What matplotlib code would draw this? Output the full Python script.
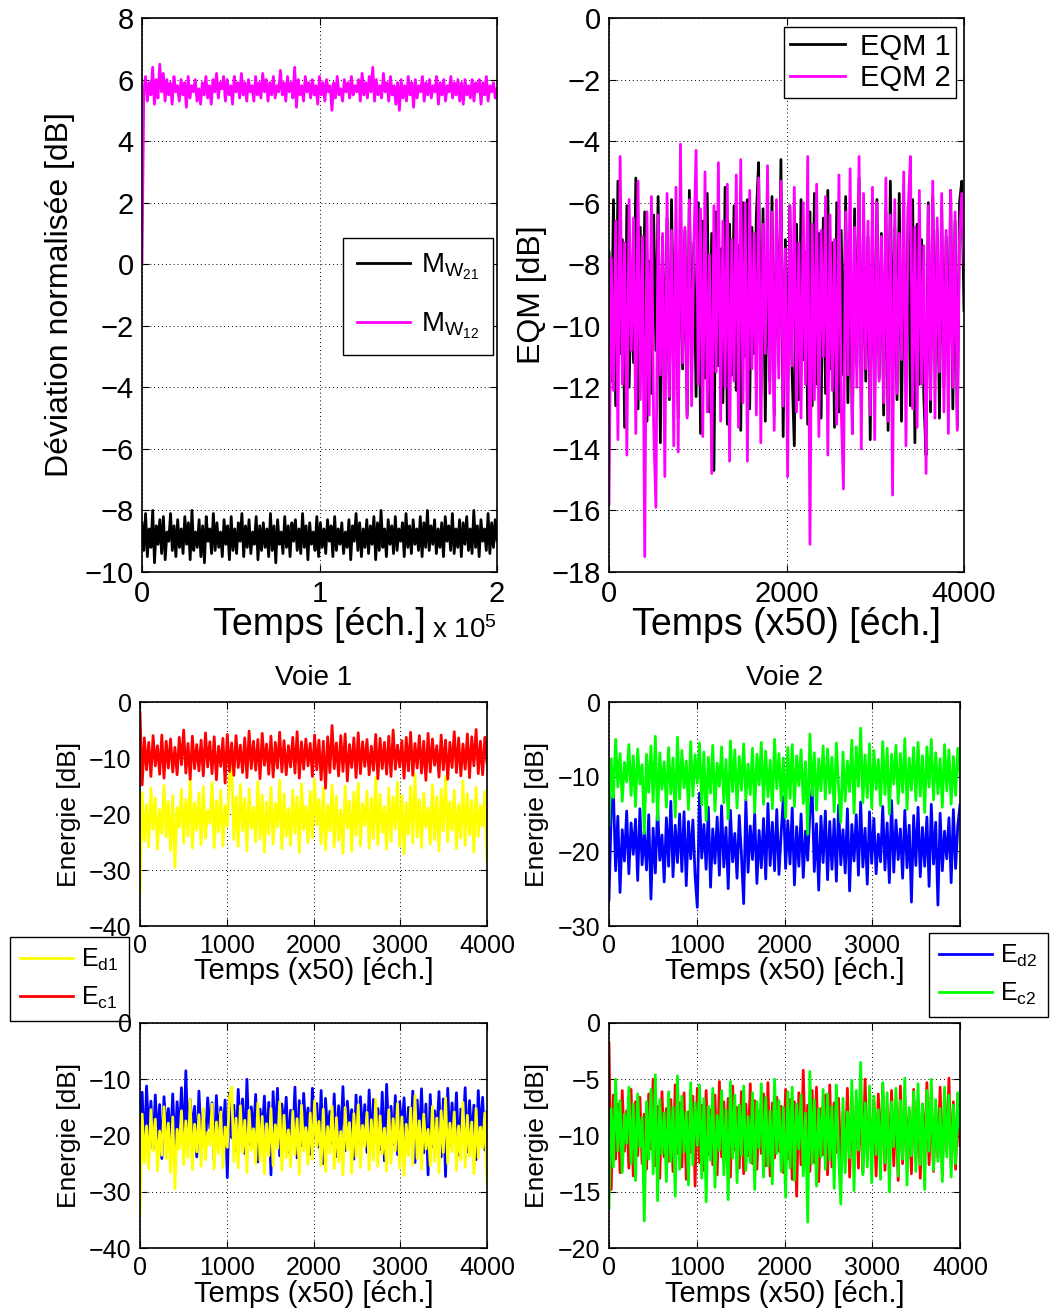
import numpy as np
import matplotlib
matplotlib.use("Agg")
import matplotlib.pyplot as plt

plt.rcParams['font.family'] = ['Liberation Sans', 'DejaVu Sans']
plt.rcParams['mathtext.fontset'] = 'custom'
plt.rcParams['mathtext.rm'] = 'Liberation Sans'
plt.rcParams['mathtext.it'] = 'Liberation Sans:italic'

# --- data (dB values) ---
mw21 = [-8.4, -9.3, -8.1, -9.5, -8.6, -9.2, -8.0, -9.7, -8.5, -9.1, -8.3, -9.4, -8.2, -9.6, -8.7, -9.0, -8.1, -9.3, -8.5, -9.5,
        -8.3, -9.2, -8.6, -9.4, -8.2, -9.1, -8.4, -9.6, -8.0, -9.3, -8.7, -9.2, -8.3, -9.5, -8.5, -9.7, -8.2, -9.0, -8.6, -9.4,
        -8.1, -9.3, -8.4, -9.2, -8.7, -9.5, -8.3, -9.1, -8.5, -9.6, -8.2, -9.3, -8.6, -9.4, -8.4, -9.0, -8.1, -9.5, -8.5, -9.2,
        -8.3, -9.4, -8.7, -9.1, -8.2, -9.6, -8.5, -9.3, -8.4, -9.2, -8.6, -9.5, -8.1, -9.3, -8.5, -9.7, -8.3, -9.1, -8.7, -9.4,
        -8.2, -9.2, -8.5, -9.5, -8.4, -9.0, -8.3, -9.3, -8.6, -9.4, -8.1, -9.2, -8.5, -9.6, -8.4, -9.1, -8.7, -9.3, -8.2, -9.5,
        -8.4, -9.2, -8.6, -9.4, -8.3, -9.0, -8.5, -9.5, -8.2, -9.3, -8.6, -9.1, -8.4, -9.4, -8.7, -9.2, -8.3, -9.6, -8.5, -9.0,
        -8.1, -9.3, -8.4, -9.5, -8.6, -9.2, -8.3, -9.4, -8.5, -9.1, -8.2, -9.6, -8.4, -9.3, -8.0, -9.2, -8.6, -9.5, -8.3, -9.1,
        -8.5, -9.4, -8.2, -9.3, -8.6, -9.0, -8.4, -9.5, -8.1, -9.2, -8.5, -9.4, -8.3, -9.1, -8.6, -9.3, -8.2, -9.5, -8.4, -9.2,
        -8.0, -9.3, -8.5, -9.1, -8.3, -9.4, -8.6, -9.2, -8.4, -9.5, -8.2, -9.0, -8.5, -9.3, -8.1, -9.4, -8.6, -9.2, -8.3, -9.5,
        -8.4, -9.1, -8.2, -9.3, -8.6, -9.4, -8.0, -9.2, -8.5, -9.5, -8.3, -9.0, -8.6, -9.3, -8.1, -9.4, -8.4, -9.2, -8.3, -9.0]

mw12 = [0.0,
        5.6, 6.1, 5.3, 5.9, 5.5, 6.4, 5.2, 6.0, 5.4, 6.5, 5.6, 6.2, 5.3, 6.0, 5.5, 5.9, 5.2, 6.1, 5.6, 5.8,
        5.3, 6.0, 5.5, 5.9, 5.1, 6.1, 5.4, 5.8, 5.6, 6.0, 5.3, 5.7, 5.2, 5.9, 5.5, 6.1, 5.4, 5.8, 5.2, 6.0,
        5.6, 6.2, 5.4, 5.9, 5.7, 6.1, 5.3, 6.0, 5.5, 5.8, 5.2, 6.1, 5.6, 5.9, 5.4, 6.2, 5.5, 5.9, 5.3, 6.0,
        5.6, 5.8, 5.3, 6.1, 5.5, 5.9, 5.4, 6.2, 5.6, 6.0, 5.3, 5.9, 5.5, 6.1, 5.4, 5.8, 5.6, 6.3, 5.5, 5.9,
        5.3, 6.1, 5.6, 5.9, 5.4, 6.4, 5.1, 6.0, 5.5, 5.8, 5.3, 6.1, 5.6, 5.9, 5.4, 6.0, 5.5, 5.8, 5.2, 6.1,
        5.5, 5.9, 5.3, 6.0, 5.6, 5.8, 5.0, 5.9, 5.4, 6.1, 5.5, 5.7, 5.3, 6.0, 5.6, 5.9, 5.4, 6.1, 5.5, 5.8,
        5.6, 6.0, 5.3, 6.2, 5.5, 5.9, 5.4, 6.1, 5.6, 6.4, 5.3, 6.0, 5.5, 5.8, 5.4, 6.2, 5.6, 5.9, 5.3, 6.1,
        5.5, 5.8, 5.2, 5.9, 5.0, 6.0, 5.4, 5.8, 5.3, 6.1, 5.5, 5.9, 5.1, 6.0, 5.4, 5.8, 5.6, 6.1, 5.3, 5.9,
        5.5, 6.0, 5.4, 5.8, 5.6, 6.1, 5.2, 5.9, 5.5, 6.0, 5.3, 5.8, 5.6, 6.1, 5.4, 5.9, 5.5, 6.0, 5.3, 5.9,
        5.2, 6.0, 5.5, 5.8, 5.4, 6.0, 5.3, 5.9, 5.6, 6.0, 5.2, 5.9, 5.5, 6.1, 5.3, 5.8, 5.6, 5.9, 5.4, 5.7]

eqm1 = [-7.6, -11.8, -5.9, -12.6, -5.3, -10.9, -7.2, -13.3, -6.1, -12.0, -8.4, -11.2, -5.2, -12.7, -6.8, -11.5, -6.3, -13.1, -7.9, -12.2,
        -6.4, -10.8, -5.8, -13.8, -7.1, -11.9, -6.5, -12.4, -5.9, -10.7, -7.7, -13.0, -6.2, -11.4, -6.9, -12.9, -5.6, -11.1, -7.3, -12.3,
        -6.0, -13.5, -6.6, -11.7, -5.7, -12.8, -7.0, -14.7, -6.3, -11.3, -7.5, -12.5, -5.5, -13.2, -6.7, -11.6, -6.1, -12.1, -7.4, -13.4,
        -6.0, -11.0, -5.9, -12.7, -6.8, -10.9, -6.4, -4.7, -12.3, -6.2, -13.1, -7.1, -11.8, -5.8, -12.9, -6.5, -11.2, -4.6, -13.6, -7.2,
        -12.0, -6.1, -11.5, -13.9, -6.7, -12.4, -5.9, -11.1, -7.6, -13.2, -6.3, -12.6, -5.7, -11.9, -7.0, -13.0, -6.5, -12.2, -5.6, -11.4,
        -7.3, -13.3, -6.0, -12.8, -6.9, -11.6, -5.8, -12.5, -7.5, -13.5, -6.2, -11.3, -5.2, -12.7, -6.6, -11.8, -7.1, -13.7, -6.4, -12.1,
        -5.9, -11.7, -7.0, -12.9, -6.3, -13.4, -5.3, -11.0, -6.8, -12.4, -5.7, -13.1, -7.4, -11.5, -6.1, -12.6, -5.9, -13.8, -6.7, -11.9,
        -7.2, -12.3, -14.2, -6.0, -12.8, -5.8, -11.2, -6.9, -13.0, -6.2, -12.0, -7.1, -11.6, -5.6, -12.7, -6.6, -13.3, -6.0, -5.3, -9.5]

eqm2 = [-15.8, -7.8, -12.1, -6.6, -13.7, -4.5, -11.9, -7.3, -14.2, -5.9, -10.8, -6.5, -13.5, -5.3, -12.4, -7.1, -17.5, -6.3, -12.9, -5.8,
        -13.2, -15.9, -6.4, -11.6, -7.0, -14.9, -5.7, -12.3, -6.9, -13.9, -5.5, -14.1, -4.1, -11.2, -6.8, -13.0, -5.9, -12.6, -7.4, -4.3,
        -11.9, -6.2, -13.6, -5.0, -12.8, -7.7, -14.8, -6.1, -11.5, -4.7, -13.1, -6.6, -12.0, -5.4, -14.4, -7.2, -11.8, -5.1, -13.3, -4.6,
        -12.5, -6.0, -14.4, -5.6, -11.4, -7.0, -12.9, -5.2, -13.8, -6.7, -10.9, -4.8, -12.2, -6.3, -13.4, -5.9, -11.7, -5.3, -12.6, -7.5,
        -14.9, -6.1, -11.3, -5.5, -12.8, -7.3, -13.0, -6.0, -11.9, -4.5, -17.1, -6.7, -12.4, -5.4, -13.6, -6.9, -11.0, -5.8, -14.2, -6.4,
        -12.1, -7.2, -13.2, -5.1, -12.7, -15.3, -6.3, -11.6, -4.9, -13.5, -6.8, -12.0, -4.5, -14.0, -5.7, -11.4, -6.6, -12.9, -5.5, -13.7,
        -6.0, -11.8, -7.1, -12.5, -5.2, -13.1, -6.4, -15.5, -5.9, -12.2, -7.0, -11.1, -5.0, -13.9, -6.2, -4.5, -12.7, -6.8, -13.3, -5.6,
        -11.9, -7.4, -14.8, -6.1, -12.4, -5.3, -13.0, -6.5, -11.5, -5.7, -12.8, -6.9, -13.5, -5.6, -12.0, -6.3, -13.4, -7.1, -5.7, -8.0]

ed1 = [-34.0, -16.2, -24.8, -18.3, -25.9, -15.4, -22.7, -17.1, -26.3, -19.2, -23.5, -14.9, -24.1, -17.8, -26.5, -16.7, -29.5, -18.9, -22.4, -15.6,
       -25.2, -17.4, -23.9, -13.6, -26.1, -18.0, -22.9, -16.3, -25.5, -15.1, -24.3, -19.4, -21.7, -14.4, -26.0, -17.6, -23.2, -15.8, -25.7, -18.5,
       -22.1, -13.2, -11.4, -24.6, -16.9, -25.8, -14.7, -23.0, -17.3, -26.6, -15.5, -22.6, -18.8, -25.0, -14.2, -24.5, -16.6, -26.8, -17.9, -23.6,
       -15.2, -25.4, -18.1, -22.3, -14.0, -26.2, -16.4, -24.0, -19.0, -25.6, -15.7, -23.4, -17.0, -26.9, -14.6, -22.8, -18.6, -25.1, -16.0, -24.2,
       -13.8, -21.9, -17.5, -25.3, -15.3, -26.4, -18.4, -23.1, -14.8, -25.9, -16.8, -24.7, -19.3, -27.0, -15.0, -22.5, -17.7, -26.7, -16.1, -23.8,
       -14.5, -25.7, -18.2, -22.0, -15.9, -26.1, -17.2, -24.4, -13.5, -25.5, -16.5, -23.3, -18.7, -26.3, -15.4, -24.9, -17.0, -22.7, -14.3, -25.8,
       -16.7, -27.1, -18.0, -23.6, -15.1, -25.2, -12.9, -24.1, -17.4, -26.0, -16.2, -22.4, -18.9, -25.4, -14.8, -24.6, -16.9, -26.6, -15.6, -23.0,
       -13.3, -25.0, -17.8, -22.9, -15.8, -26.2, -18.3, -24.3, -14.1, -25.6, -16.4, -23.7, -17.6, -26.8, -15.2, -24.0, -18.5, -22.2, -16.0, -28.3]

ec1 = [-1.8, -14.8, -6.4, -12.1, -7.2, -13.3, -6.0, -11.4, -7.8, -12.9, -5.9, -13.6, -7.0, -11.8, -6.6, -12.5, -8.1, -13.0, -6.3, -11.2,
       -5.0, -12.7, -7.4, -13.8, -6.1, -11.9, -7.6, -12.3, -6.8, -13.2, -5.5, -11.6, -7.1, -12.8, -6.2, -13.9, -7.9, -11.5, -6.5, -14.5,
       -5.8, -12.4, -7.3, -13.1, -6.0, -11.7, -7.7, -12.6, -6.4, -13.5, -5.2, -11.9, -7.0, -12.2, -6.7, -13.7, -5.6, -11.3, -7.5, -12.9,
       -6.1, -13.4, -7.2, -11.8, -5.4, -12.5, -6.9, -13.0, -7.8, -11.6, -6.3, -12.7, -5.3, -13.6, -7.1, -12.0, -6.6, -11.4, -7.4, -13.3,
       -5.9, -12.1, -6.8, -13.9, -7.0, -15.4, -6.2, -12.6, -4.2, -11.9, -7.3, -13.2, -6.0, -12.4, -5.7, -14.1, -7.6, -11.7, -6.4, -13.5,
       -5.5, -12.8, -7.1, -11.5, -6.7, -13.0, -7.9, -12.2, -5.8, -13.7, -6.5, -11.9, -7.2, -12.9, -6.1, -13.3, -5.0, -12.0, -7.7, -11.6,
       -6.9, -13.6, -6.3, -12.3, -5.4, -13.1, -7.4, -11.8, -6.0, -12.7, -7.0, -14.0, -5.6, -12.5, -6.6, -11.3, -7.8, -13.4, -5.9, -12.1,
       -6.8, -13.8, -7.2, -11.7, -5.3, -12.6, -6.4, -13.2, -7.5, -12.0, -5.7, -13.5, -6.2, -11.4, -4.9, -12.8, -7.0, -13.0, -6.3, -10.9]

ed2 = [-26.5, -14.8, -12.0, -22.6, -15.3, -25.5, -17.1, -21.3, -14.6, -23.0, -16.2, -20.4, -15.7, -23.9, -14.3, -21.8, -17.4, -22.5, -15.1, -26.4,
       -16.9, -22.9, -14.0, -21.2, -17.8, -24.1, -15.5, -22.0, -13.3, -23.4, -16.5, -21.5, -15.0, -22.7, -14.7, -24.6, -16.0, -21.0, -15.8, -23.3,
       -27.5, -12.2, -20.9, -16.4, -22.4, -14.1, -24.8, -17.0, -21.6, -15.4, -23.2, -13.9, -22.1, -16.8, -25.0, -14.5, -21.4, -17.6, -23.6, -15.2,
       -20.6, -27.0, -13.1, -22.8, -16.6, -21.1, -14.9, -24.3, -17.2, -22.2, -15.6, -23.7, -13.6, -21.9, -16.1, -22.6, -14.4, -23.1, -17.5, -12.7,
       -22.3, -15.9, -21.7, -14.2, -24.5, -16.7, -22.0, -15.0, -23.5, -17.3, -21.2, -14.8, -11.6, -22.7, -16.3, -25.2, -15.3, -21.5, -14.6, -23.8,
       -16.0, -22.4, -15.7, -24.0, -13.8, -21.8, -17.1, -22.9, -14.3, -25.3, -16.4, -21.3, -15.1, -23.2, -13.4, -22.1, -16.9, -24.4, -14.7, -21.6,
       -15.6, -23.0, -17.7, -21.4, -14.0, -22.5, -16.2, -24.2, -13.2, -22.8, -15.8, -21.1, -17.0, -23.6, -14.5, -22.2, -16.5, -26.8, -15.2, -21.9,
       -14.1, -23.4, -16.8, -22.0, -15.4, -24.7, -13.7, -21.7, -16.1, -27.2, -14.9, -22.6, -17.3, -21.0, -15.5, -24.2, -14.4, -22.3, -16.6, -13.8]

ec2 = [-16.5, -7.6, -12.8, -5.0, -11.4, -6.9, -13.3, -8.1, -10.7, -5.7, -12.5, -7.2, -14.0, -6.3, -11.0, -8.4, -17.6, -7.0, -12.1, -5.9,
       -13.4, -4.6, -15.8, -6.8, -11.7, -8.0, -14.1, -6.1, -12.3, -7.5, -15.4, -4.7, -13.0, -6.5, -11.5, -7.9, -14.4, -5.3, -12.6, -7.1,
       -10.9, -5.5, -13.8, -6.7, -15.9, -7.4, -12.2, -5.8, -14.6, -8.2, -11.3, -6.0, -13.5, -7.7, -15.7, -5.2, -12.0, -6.4, -14.2, -7.3,
       -11.8, -5.6, -13.1, -8.3, -12.4, -6.2, -14.8, -7.0, -11.1, -5.4, -13.7, -6.6, -12.7, -7.8, -14.3, -5.0, -11.6, -6.9, -13.2, -7.5,
       -15.5, -6.1, -12.9, -5.7, -14.0, -7.2, -11.2, -6.4, -13.6, -8.0, -17.7, -4.3, -12.5, -6.8, -14.5, -7.6, -11.9, -5.9, -13.0, -6.3,
       -12.2, -7.4, -14.7, -5.5, -11.5, -16.1, -6.7, -13.3, -7.9, -12.0, -5.1, -14.9, -6.0, -11.3, -3.5, -13.5, -7.1, -12.8, -5.6, -14.2,
       -6.5, -11.7, -7.7, -13.9, -5.3, -12.4, -6.2, -15.0, -7.0, -11.0, -5.8, -13.6, -6.9, -12.1, -4.9, -14.4, -7.5, -11.8, -6.1, -13.2,
       -5.4, -12.6, -7.2, -14.8, -6.0, -11.4, -5.0, -13.1, -6.8, -12.3, -7.6, -14.1, -5.7, -11.9, -6.4, -13.7, -7.3, -12.5, -6.2, -9.8]

# blue curve of the lower-left panel
ed2b = [-18.0, -12.3, -23.5, -11.2, -19.8, -13.9, -22.4, -12.8, -20.6, -14.5, -24.1, -13.1, -19.2, -15.2, -21.7, -12.6, -23.0, -14.0, -20.1, -11.5,
        -22.8, -8.5, -21.3, -13.6, -19.5, -14.8, -23.8, -12.1, -20.9, -15.6, -22.2, -13.3, -18.7, -14.2, -24.4, -12.9, -21.0, -15.0, -19.9, -13.7,
        -27.5, -12.4, -20.4, -14.6, -22.6, -11.8, -19.3, -13.5, -23.2, -10.0, -21.5, -14.9, -20.0, -12.7, -24.7, -15.3, -19.6, -13.0, -22.0, -14.1,
        -27.0, -12.2, -21.1, -11.6, -23.6, -14.4, -19.0, -13.2, -22.9, -15.5, -20.7, -11.4, -24.0, -13.8, -21.8, -12.5, -19.4, -15.1, -23.3, -11.6,
        -20.3, -14.3, -22.1, -12.0, -25.0, -13.4, -19.7, -15.7, -21.4, -12.6, -23.7, -14.7, -20.5, -11.3, -22.7, -13.9, -19.1, -15.4, -24.2, -12.8,
        -21.2, -13.1, -20.2, -14.5, -23.0, -11.9, -21.9, -13.6, -19.8, -15.2, -22.5, -12.3, -24.5, -10.9, -20.6, -14.8, -21.6, -12.9, -23.4, -14.0,
        -19.5, -13.3, -22.3, -15.0, -20.8, -12.1, -24.8, -13.7, -21.3, -11.7, -23.1, -14.4, -27.0, -12.7, -22.0, -15.6, -19.9, -12.2, -23.8, -13.5,
        -27.3, -11.6, -21.7, -14.2, -20.4, -12.4, -23.5, -15.3, -19.3, -11.5, -22.9, -13.8, -21.0, -14.6, -24.3, -12.0, -20.1, -13.2, -22.6, -15.8]

# --- figure ---
W, H = 1052, 1309
fig = plt.figure(figsize=(W / 100, H / 100), dpi=100)


def px_axes(x0, y0, x1, y1):
    return fig.add_axes([x0 / W, 1 - y1 / H, (x1 - x0) / W, (y1 - y0) / H])


def style(ax, fs):
    ax.tick_params(direction='in', top=True, right=True, length=5, width=0.8,
                   labelsize=fs, pad=6)
    ax.grid(True, linestyle=(0, (1, 3)), color='black', linewidth=0.7)
    for s in ax.spines.values():
        s.set_linewidth(1.2)


def box(leg):
    leg.get_frame().set_linewidth(1.0)
    return leg


lw = 2.0
ax1 = px_axes(142, 18, 497, 572)
ax2 = px_axes(609, 18, 964, 572)
ax3 = px_axes(140, 702, 487, 926)
ax4 = px_axes(609, 702, 960, 926)
ax5 = px_axes(140, 1023, 487, 1248)
ax6 = px_axes(609, 1023, 960, 1248)

# panel 1
t1 = np.linspace(0, 2e5, len(mw21))
t2 = np.linspace(0, 2e5, len(mw12))
ax1.plot(t1, mw21, color='black', lw=lw, label=r'$\mathrm{M}_{\mathrm{W}_{\mathrm{21}}}$')
ax1.plot(t2, mw12, color='#ff00ff', lw=lw, label=r'$\mathrm{M}_{\mathrm{W}_{\mathrm{12}}}$')
ax1.set_xlim(0, 2e5)
ax1.set_ylim(-10, 8)
ax1.set_xticks([0, 1e5, 2e5])
ax1.set_xticklabels(['0', '1', '2'])
ax1.set_yticks(np.arange(-10, 9, 2))
style(ax1, 21)
ax1.set_xlabel('Temps [éch.]', fontsize=27)
ax1.xaxis.set_label_coords(0.5, -0.064)
ax1.set_ylabel('Déviation normalisée [dB]', fontsize=23)
ax1.yaxis.set_label_coords(-0.19, 0.5)
ax1.text(1.0, -0.105, r'x 10$^5$', transform=ax1.transAxes, ha='right', va='center', fontsize=20)
box(ax1.legend(loc='upper left', bbox_to_anchor=(0.566, 0.603), fontsize=20, fancybox=False,
               edgecolor='black', framealpha=1, handlelength=1.9, borderpad=0.5,
               labelspacing=1.0, borderaxespad=0, handletextpad=0.4))

# panel 2
x2 = np.linspace(0, 4000, len(eqm1))
ax2.plot(x2, eqm1, color='black', lw=lw, label='EQM 1')
ax2.plot(x2, eqm2, color='#ff00ff', lw=lw, label='EQM 2')
ax2.set_xlim(0, 4000)
ax2.set_ylim(-18, 0)
ax2.set_xticks([0, 2000, 4000])
ax2.set_yticks(np.arange(-18, 1, 2))
style(ax2, 21)
ax2.set_xlabel('Temps (x50) [éch.]', fontsize=27)
ax2.xaxis.set_label_coords(0.5, -0.064)
ax2.set_ylabel('EQM [dB]', fontsize=23)
ax2.yaxis.set_label_coords(-0.175, 0.5)
box(ax2.legend(loc='upper right', bbox_to_anchor=(0.978, 0.984), fontsize=21, fancybox=False,
               edgecolor='black', framealpha=1, handlelength=1.9, borderpad=0.2,
               labelspacing=0.12, borderaxespad=0, handletextpad=0.5))

# panels 3-6
x4 = np.linspace(0, 4000, len(ed1))
for ax in (ax3, ax4, ax5, ax6):
    ax.set_xlim(0, 4000)
    ax.set_xticks([0, 1000, 2000, 3000, 4000])
    style(ax, 18)
    ax.set_xlabel('Temps (x50) [éch.]', fontsize=21)
    ax.xaxis.set_label_coords(0.5, -0.14)
    ax.set_ylabel('Energie [dB]', fontsize=19)
    ax.yaxis.set_label_coords(-0.17, 0.5)

ax3.plot(x4, ed1, color='#ffff00', lw=lw, label=r'E$_{\mathrm{d1}}$')
ax3.plot(x4, ec1, color='#ff0000', lw=lw, label=r'E$_{\mathrm{c1}}$')
ax3.set_ylim(-40, 0)
ax3.set_yticks(np.arange(-40, 1, 10))
ax3.set_title('Voie 1', fontsize=20, pad=12)

ax4.plot(x4, ed2, color='#0000ff', lw=lw, label=r'E$_{\mathrm{d2}}$')
ax4.plot(x4, ec2, color='#00ff00', lw=lw, label=r'E$_{\mathrm{c2}}$')
ax4.set_ylim(-30, 0)
ax4.set_yticks(np.arange(-30, 1, 10))
ax4.set_title('Voie 2', fontsize=20, pad=12)

ax5.plot(x4, ed2b, color='#0000ff', lw=lw)
ax5.plot(x4, ed1, color='#ffff00', lw=lw)
ax5.set_ylim(-40, 0)
ax5.set_yticks(np.arange(-40, 1, 10))

ax6.plot(x4, ec1, color='#ff0000', lw=lw)
ax6.plot(x4, ec2, color='#00ff00', lw=lw)
ax6.set_ylim(-20, 0)
ax6.set_yticks(np.arange(-20, 1, 5))

for ax, x0, y0 in ((ax3, 10, 937), (ax4, 929, 933)):
    box(ax.legend(loc='upper left', bbox_to_anchor=(x0 / W, 1 - y0 / H),
                  bbox_transform=fig.transFigure, fontsize=18, fancybox=False,
                  edgecolor='black', framealpha=1, handlelength=2.1,
                  handletextpad=0.35, borderpad=0.4, labelspacing=0.45,
                  borderaxespad=0))

fig.savefig('out.png', dpi=100)
